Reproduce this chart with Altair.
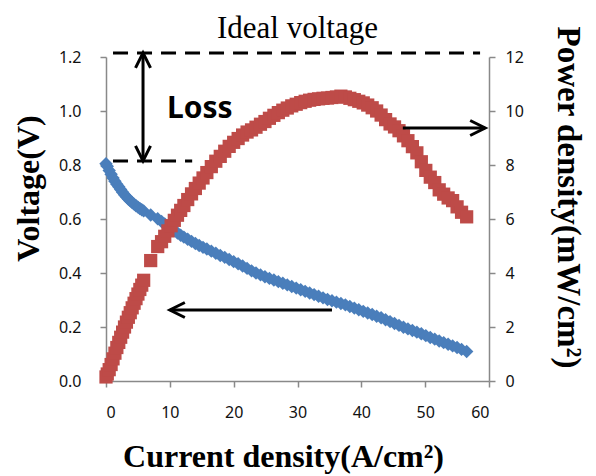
import altair as alt
import pandas as pd

# ---- data ----
current = [0.0, 0.2, 0.5, 0.8, 1.1, 1.4, 1.7, 2.0, 2.3, 2.6, 2.9, 3.2, 3.5, 3.8, 4.1, 4.4, 4.7,
           5.0, 5.3, 5.6, 5.9, 7.0, 8.1, 8.7, 9.2, 9.7, 10.2, 10.7, 11.2, 11.7, 12.2, 12.8,
           13.4, 14.0, 14.6, 15.2, 15.8, 16.5, 17.2, 17.9, 18.6, 19.3, 20.0, 20.7, 21.4,
           22.1, 22.8, 23.5, 24.2, 24.9, 25.6, 26.3, 27.0, 27.7, 28.4, 29.1, 29.8, 30.5,
           31.2, 31.9, 32.6, 33.3, 34.0, 34.7, 35.4, 36.1, 36.8, 37.5, 38.2, 38.9, 39.6,
           40.3, 41.0, 41.7, 42.4, 43.1, 43.8, 44.5, 45.2, 45.9, 46.6, 47.3, 48.0, 48.7,
           49.4, 50.1, 50.8, 51.5, 52.2, 52.9, 53.6, 54.3, 55.0, 55.7, 56.5]
voltage = [0.805, 0.795, 0.780, 0.766, 0.752, 0.740, 0.729, 0.719, 0.709, 0.699, 0.690, 0.682,
           0.674, 0.667, 0.661, 0.655, 0.649, 0.644, 0.639, 0.634, 0.630, 0.615, 0.601, 0.591,
           0.582, 0.573, 0.564, 0.556, 0.548, 0.540, 0.533, 0.525, 0.517, 0.509, 0.502, 0.495,
           0.489, 0.481, 0.473, 0.465, 0.458, 0.450, 0.442, 0.434, 0.426, 0.417, 0.408, 0.400,
           0.393, 0.386, 0.380, 0.374, 0.368, 0.362, 0.356, 0.350, 0.344, 0.338, 0.332, 0.326,
           0.320, 0.314, 0.308, 0.302, 0.297, 0.292, 0.287, 0.282, 0.276, 0.270, 0.264, 0.258,
           0.252, 0.246, 0.240, 0.234, 0.227, 0.220, 0.213, 0.206, 0.199, 0.193, 0.187, 0.181,
           0.175, 0.168, 0.161, 0.155, 0.148, 0.142, 0.136, 0.130, 0.124, 0.117, 0.109]
power = [0.15, 0.26, 0.42, 0.61, 0.82, 1.03, 1.24, 1.43, 1.62, 1.81, 2.00, 2.18, 2.36, 2.53,
         2.71, 2.88, 3.05, 3.22, 3.39, 3.55, 3.73, 4.46, 4.98, 5.16, 5.36, 5.56, 5.75, 5.95,
         6.14, 6.32, 6.50, 6.72, 6.93, 7.13, 7.33, 7.52, 7.72, 7.94, 8.14, 8.32, 8.51, 8.69,
         8.84, 8.98, 9.11, 9.22, 9.30, 9.40, 9.51, 9.61, 9.73, 9.84, 9.94, 10.03, 10.11,
         10.19, 10.25, 10.31, 10.36, 10.40, 10.43, 10.45, 10.47, 10.48, 10.50, 10.52, 10.55,
         10.52, 10.47, 10.42, 10.36, 10.30, 10.22, 10.12, 10.00, 9.85, 9.68, 9.52, 9.41,
         9.27, 9.08, 8.90, 8.68, 8.45, 8.12, 7.80, 7.55, 7.35, 7.08, 6.92, 6.78, 6.68, 6.45,
         6.25, 6.08]

x_ticks = [0, 10, 20, 30, 40, 50, 60]
v_ticks = [0.0, 0.2, 0.4, 0.6, 0.8, 1.0, 1.2]
p_ticks = [0, 2, 4, 6, 8, 10, 12]

# annotation geometry (in current / power-density units)
rule_x = [1.1, 1.1, 5.8, 46.5, 10.0]
rule_x2 = [58.6, 13.5, 5.8, 59.4, 35.4]
rule_y = [12.15, 8.15, 12.15, 9.37, 2.63]
rule_y2 = [12.15, 8.15, 8.15, 9.37, 2.63]
rule_dashed = [True, True, False, False, False]

head_x = [5.8, 5.8, 59.4, 10.0]
head_y = [12.15, 8.15, 9.37, 2.63]
head_shape = ["M -0.5 1 L 0 0 L 0.5 1", "M -0.5 -1 L 0 0 L 0.5 -1",
              "M -1 -0.5 L 0 0 L -1 0.5", "M 1 -0.5 L 0 0 L 1 0.5"]

SERIF = "Liberation Serif"
SANS = "Noto Sans"
GREY = "#898989"
BLUE = "#4A7EBB"
RED = "#BE4B48"

df = pd.DataFrame({"current": current, "voltage": voltage, "power": power})
rules = pd.DataFrame({"current": rule_x, "x2": rule_x2, "power": rule_y, "y2": rule_y2,
                      "dashed": rule_dashed})
heads = pd.DataFrame({"current": head_x, "power": head_y, "path": head_shape})
labels = pd.DataFrame({"current": [9.55], "power": [9.74], "t": ["Loss"]})
ttl = pd.DataFrame({"current": [30.0], "power": [12.72], "t": ["Ideal voltage"]})

xscale = alt.Scale(domain=[0, 60], nice=False)
pscale = alt.Scale(domain=[0, 12], nice=False)

x_axis = alt.Axis(values=x_ticks, format="d", title="Current density(A/cm²)",
                  labelFont=SANS, labelFontSize=16, labelColor="#111", labelPadding=17,
                  tickSize=6, tickColor=GREY, tickWidth=1.5, domainColor=GREY, domainWidth=1.5,
                  titleFont=SERIF, titleFontSize=32, titleFontWeight="bold", titleColor="#000",
                  titleX=177, titleY=85, titleBaseline="alphabetic", titleAlign="center")
p_axis = alt.Axis(orient="right", values=p_ticks, format="d", title="Power density(mW/cm²)",
                  labelFont=SANS, labelFontSize=16, labelColor="#111", labelPadding=10,
                  tickSize=6, tickColor=GREY, tickWidth=1.5, domainColor=GREY, domainWidth=1.5,
                  titleFont=SERIF, titleFontSize=33, titleFontWeight="bold", titleColor="#000",
                  titleAngle=90, titleX=68, titleY=140, titleBaseline="alphabetic",
                  titleAlign="center")
v_axis = alt.Axis(orient="left", values=v_ticks, format=".1f", title="Voltage(V)",
                  labelFont=SANS, labelFontSize=16, labelColor="#111", labelPadding=19,
                  tickSize=6, tickColor=GREY, tickWidth=1.5, domainColor=GREY, domainWidth=1.5,
                  titleFont=SERIF, titleFontSize=32, titleFontWeight="bold", titleColor="#000",
                  titleAngle=270, titleX=-68, titleY=131, titleBaseline="alphabetic",
                  titleAlign="center")

X = alt.X("current:Q", scale=xscale, axis=x_axis)
P = alt.Y("power:Q", scale=pscale, axis=p_axis)

blue = alt.Chart(df).mark_point(shape="diamond", filled=True, size=180, color=BLUE, opacity=1).encode(
    x=X, y=alt.Y("voltage:Q", scale=alt.Scale(domain=[0, 1.2], nice=False), axis=v_axis))

red = alt.Chart(df).mark_point(shape="square", filled=True, size=175, color=RED, opacity=1).encode(
    x=X, y=P)

dashed = alt.Chart(rules).transform_filter("datum.dashed").mark_rule(
    color="#000", strokeWidth=3, strokeDash=[15, 9]).encode(x=X, x2="x2:Q", y=P, y2="y2:Q")

solid = alt.Chart(rules).transform_filter("!datum.dashed").mark_rule(
    color="#000", strokeWidth=3).encode(x=X, x2="x2:Q", y=P, y2="y2:Q")

arrowheads = alt.Chart(heads).mark_point(filled=False, size=900, strokeWidth=3, color="#000",
                                         opacity=1).encode(
    x=X, y=P, shape=alt.Shape("path:N", scale=None))

loss = alt.Chart(labels).mark_text(font=SANS, fontSize=30, fontWeight="bold", color="#000",
                                   align="left", baseline="alphabetic").encode(
    x=X, y=P, text="t:N")

ideal = alt.Chart(ttl).mark_text(font=SERIF, fontSize=31, color="#000",
                                 align="center", baseline="alphabetic").encode(
    x=X, y=P, text="t:N")

right = alt.layer(red, dashed, solid, arrowheads, loss, ideal)

chart = alt.layer(blue, right).resolve_scale(y="independent").properties(
    width=383, height=324,
    autosize=alt.AutoSizeParams(type="none"),
    padding={"left": 98, "top": 49, "right": 99, "bottom": 95},
).configure_view(stroke=None).configure_axis(grid=False)

chart.save("out.html", embed_options={"renderer": "svg", "actions": False})
